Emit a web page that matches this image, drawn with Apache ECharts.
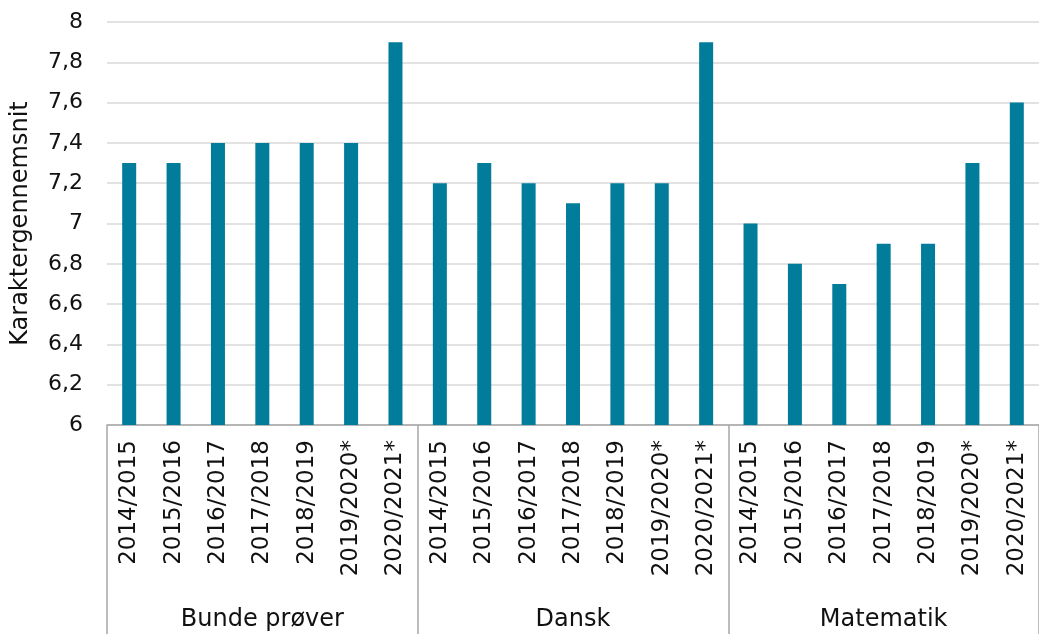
<!DOCTYPE html>
<html><head><meta charset="utf-8">
<script src="https://cdn.jsdelivr.net/npm/echarts@6/dist/echarts.min.js"></script>
<style>html,body{margin:0;padding:0;background:#fff}#c{width:1039px;height:634px}</style>
</head><body><div id="c"></div>
<script>
const years = ['2014/2015','2015/2016','2016/2017','2017/2018','2018/2019','2019/2020*','2020/2021*'];
const groups = ['Bunde prøver','Dansk','Matematik'];
const bundeProver = [7.3,7.3,7.4,7.4,7.4,7.4,7.9];
const dansk = [7.2,7.3,7.2,7.1,7.2,7.2,7.9];
const matematik = [7.0,6.8,6.7,6.9,6.9,7.3,7.6];
const yTicks = {min:6, max:8, interval:0.2};

const categories = [];
groups.forEach(() => years.forEach(y => categories.push(y)));
const values = [].concat(bundeProver, dansk, matematik);

const font = 'DejaVu Sans';
const chart = echarts.init(document.getElementById('c'));
chart.setOption({
  animation:false,
  textStyle:{fontFamily:font},
  grid:{left:107,right:0,top:22,bottom:209},
  xAxis:[{
    type:'category', data:categories, position:'bottom',
    axisLine:{lineStyle:{color:'#a6a6a6',width:1.5}},
    axisTick:{show:false},
    axisLabel:{rotate:90,interval:0,fontSize:23,color:'#111',margin:15,fontFamily:font}
  },{
    type:'category', data:groups, position:'bottom', boundaryGap:true,
    axisLine:{show:false},
    axisTick:{show:true,interval:0,length:212,lineStyle:{color:'#a6a6a6',width:1.5}},
    axisLabel:{interval:0,fontSize:24,color:'#111',margin:183,fontFamily:font}
  }],
  yAxis:{
    type:'value', min:yTicks.min, max:yTicks.max, interval:yTicks.interval,
    name:'Karaktergennemsnit', nameLocation:'middle', nameGap:74,
    nameTextStyle:{fontSize:24,color:'#111',fontFamily:font},
    axisLine:{show:false}, axisTick:{show:false},
    axisLabel:{fontSize:22,color:'#111',margin:24,fontFamily:font,
      formatter:v=>String(Math.round(v*10)/10).replace('.',',')},
    splitLine:{lineStyle:{color:'#d9d9d9',width:1.5}}
  },
  series:[{
    type:'bar', data:values, xAxisIndex:0, barWidth:14,
    itemStyle:{color:'#017c9a'}
  }]
});
</script></body></html>
